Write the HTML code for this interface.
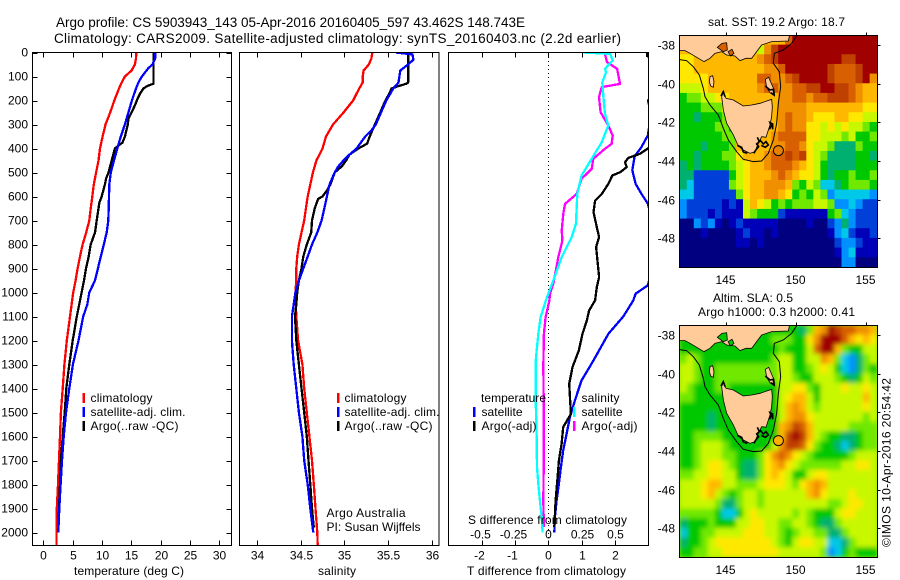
<!DOCTYPE html>
<html lang="en">
<head>
<meta charset="utf-8">
<title>Argo profile</title>
<style>
html,body{margin:0;padding:0;background:#fff;width:900px;height:580px;overflow:hidden}
svg{display:block}
text{font-family:"Liberation Sans",sans-serif;font-size:12px;fill:#000}
.ttl{font-size:13.5px}
.frame{fill:none;stroke:#000;stroke-width:1;shape-rendering:crispEdges}
.tick{stroke:#000;stroke-width:1;shape-rendering:crispEdges}
.prof{fill:none;stroke-width:2.3;stroke-linejoin:round;shape-rendering:crispEdges}
.land{fill:#ffcc99;stroke:#000;stroke-width:2.4}
.bay{fill:currentColor;stroke:#000;stroke-width:2.4}
.jag{fill:none;stroke:#000;stroke-width:5}
.iso{fill:none;stroke:#000;stroke-width:3}
</style>
</head>
<body>
<svg id="chart" xmlns="http://www.w3.org/2000/svg" width="900" height="580" viewBox="0 0 900 580">
<defs>
<clipPath id="clip-temp"><rect x="32.5" y="52.5" width="199" height="493"/></clipPath>
<clipPath id="clip-sal"><rect x="239.5" y="52.5" width="199.5" height="493"/></clipPath>
<clipPath id="clip-diff"><rect x="448.5" y="52.5" width="200" height="493"/></clipPath>
<clipPath id="clip-map1"><rect x="679.5" y="35.5" width="198" height="232"/></clipPath>
<clipPath id="clip-map2"><rect x="679.5" y="325.5" width="198" height="232"/></clipPath>
<filter id="smooth" x="-5%" y="-5%" width="110%" height="110%"><feGaussianBlur stdDeviation="2.4"/></filter>
<g id="land-shapes">
<polygon class="land" points="40,80 40,152 75,152 90,160 110,172 132,185 150,175 165,160 185,155 200,165 225,168 240,182 258,175 275,175 290,155 305,135 335,125 385,123 392,90"/>
<polygon class="bay" points="172,142 186,130 200,128 202,150 190,155"/>
<polygon class="bay" points="204,155 216,148 222,160 212,168"/>
<polygon class="land" points="150,230 158,227 162,245 160,262 152,258 148,245"/>
<polygon class="land" points="316,238 326,232 336,255 342,268 344,285 330,278 320,262"/>
<polyline class="jag" points="316,258 330,270 340,268 342,285 332,278"/>
<polygon class="land" points="185,290 190,275 198,295 220,300 250,318 275,315 300,310 335,298 337,320 335,350 330,375 318,412 305,410 295,430 285,455 270,460 250,450 235,438 220,405 200,370 190,330"/>
<polyline class="jag" points="292,412 298,425 290,432 296,440 286,452 282,460"/>
<polyline class="jag" points="300,420 310,432 318,425 325,435 316,442 304,436"/>
<polyline class="jag" points="328,388 334,378 330,368 338,372 338,388"/>
<polyline class="jag" points="232,436 245,442 250,456 262,460"/>
<polyline class="jag" points="183,288 190,275 195,290"/>
<polyline class="iso" points="40,176 80,182 100,200 118,225 130,265 135,290 150,315 175,345 190,385 205,420 230,455 250,478 280,485 305,483 325,460 340,420 350,370 355,310 362,260 358,215 340,190 343,160 370,150 395,130 415,100"/>
</g>
</defs>

<text class="ttl" x="56" y="27" textLength="469" lengthAdjust="spacing">Argo profile: CS 5903943_143 05-Apr-2016 20160405_597 43.462S 148.743E</text>
<text class="ttl" x="54" y="43" textLength="567" lengthAdjust="spacing">Climatology: CARS2009. Satellite-adjusted climatology: synTS_20160403.nc (2.2d earlier)</text>

<g id="temp-lines" clip-path="url(#clip-temp)"></g>
<g id="sal-lines" clip-path="url(#clip-sal)"></g>
<line class="tick" x1="548.5" y1="53" x2="548.5" y2="545" style="stroke-dasharray:1 3"/>
<g id="diff-lines" clip-path="url(#clip-diff)"></g>

<rect class="frame" x="32.5" y="52.5" width="199" height="493"/>
<rect class="frame" x="239.5" y="52.5" width="199.5" height="493"/>
<rect class="frame" x="448.5" y="52.5" width="200" height="493"/>
<g id="axes"></g>

<text x="74" y="575" textLength="110">temperature (deg C)</text>
<text x="318" y="575" textLength="38">salinity</text>
<text x="467" y="575" textLength="159">T difference from climatology</text>
<text x="468" y="524" textLength="159">S difference from climatology</text>

<g>
<rect x="82.5" y="393" width="2.5" height="10" fill="#ff0000"/>
<rect x="82.5" y="407" width="2.5" height="10" fill="#0000ff"/>
<rect x="82.5" y="421" width="2.5" height="10" fill="#000"/>
<text x="90.5" y="402" textLength="62">climatology</text>
<text x="90.5" y="416" textLength="95">satellite-adj. clim.</text>
<text x="90.5" y="430" textLength="88">Argo(..raw -QC)</text>
</g>
<g>
<rect x="337" y="393" width="2.5" height="10" fill="#ff0000"/>
<rect x="337" y="407" width="2.5" height="10" fill="#0000ff"/>
<rect x="337" y="421" width="2.5" height="10" fill="#000"/>
<text x="344.5" y="402" textLength="62">climatology</text>
<text x="344.5" y="416" textLength="95">satellite-adj. clim.</text>
<text x="344.5" y="430" textLength="88">Argo(..raw -QC)</text>
<text x="326.5" y="517" textLength="79">Argo Australia</text>
<text x="326.5" y="531" textLength="94">PI: Susan Wijffels</text>
</g>
<g>
<text x="481" y="402" textLength="65">temperature</text>
<text x="481.5" y="416" textLength="41">satellite</text>
<text x="481.5" y="430" textLength="55">Argo(-adj)</text>
<rect x="473" y="407" width="2.5" height="10" fill="#0000ff"/>
<rect x="473" y="421" width="2.5" height="10" fill="#000"/>
<text x="581.5" y="402" textLength="38">salinity</text>
<text x="581.5" y="416" textLength="41">satellite</text>
<text x="581.5" y="430" textLength="56">Argo(-adj)</text>
<rect x="573" y="407" width="2.5" height="10" fill="#00ffff"/>
<rect x="573" y="421" width="2.5" height="10" fill="#ff00ff"/>
</g>

<text x="708" y="26" textLength="137">sat. SST: 19.2 Argo: 18.7</text>
<g clip-path="url(#clip-map1)">
<g id="sst-cells"></g>
<use href="#land-shapes" transform="translate(660,0) scale(0.3333)" style="color:#d86000"/>
</g>
<circle id="sst-marker" r="5" fill="#e88000" stroke="#000" stroke-width="1"/>
<rect class="frame" x="679.5" y="35.5" width="198" height="232"/>

<text x="713" y="302" textLength="80">Altim. SLA: 0.5</text>
<text x="698" y="316" textLength="157">Argo h1000: 0.3 h2000: 0.41</text>
<g clip-path="url(#clip-map2)">
<rect x="679.5" y="325.5" width="198" height="232" fill="#90e800"/>
<g id="sla-cells" filter="url(#smooth)"></g>
<use href="#land-shapes" transform="translate(660,290) scale(0.3333)" style="color:#00c800"/>
</g>
<circle id="sla-marker" r="5" fill="#ffb000" stroke="#000" stroke-width="1"/>
<rect class="frame" x="679.5" y="325.5" width="198" height="232"/>
<g id="map-axes"></g>

<text transform="translate(890.5,547) rotate(-90)" textLength="169">©IMOS 10-Apr-2016 20:54:42</text>

<script>
// ---- Axis tick labels ----
var depthTicks = [0,100,200,300,400,500,600,700,800,900,1000,1100,1200,1300,1400,1500,1600,1700,1800,1900,2000];
var tempTicks = [0,5,10,15,20,25,30];
var salTicks = [34,34.5,35,35.5,36];
var salTickLabels = ['34','34.5','35','35.5','36'];
var tDiffTicks = [-2,-1,0,1,2];
var sDiffTicks = [-0.5,-0.25,0,0.25,0.5];
var sDiffLabels = ['-0.5','-0.25','0','0.25','0.5'];
var lonTicks = [145,150,155];
var latTicks = [-38,-40,-42,-44,-46,-48];

// ---- Temperature panel ----
var tempClimDepth = [0,25,50,75,100,125,150,200,250,300,350,400,450,500,550,600,650,700,750,800,850,900,950,1000,1100,1200,1300,1400,1500,1600,1700,1800,1900,2000,2055];
var tempClimValue = [15.85,15.8,15.6,15.05,13.9,13.35,12.9,12.1,11.4,10.6,10.1,9.66,9.4,9.0,8.6,8.35,8.07,7.84,7.3,6.7,6.25,5.85,5.5,5.1,4.55,4.0,3.6,3.3,3.0,2.85,2.67,2.5,2.3,2.27,2.27];
var tempSatDepth = [0,25,50,65,100,125,150,200,250,300,350,400,450,500,550,600,650,700,750,800,850,900,950,1000,1050,1100,1200,1300,1400,1500,1600,1700,1800,1900,2000];
var tempSatValue = [19.1,19.05,18.6,17.9,16.8,16.2,15.8,15.1,14.5,13.9,13.2,12.6,12.05,11.5,11.25,11.2,11.14,11.08,10.8,10.3,9.8,9.3,8.8,7.84,7.5,6.8,6.0,5.05,4.43,3.86,3.47,3.18,2.95,2.73,2.56];
var tempArgoDepth = [0,130,135,140,150,170,190,220,250,275,300,350,375,400,450,500,525,550,600,625,700,750,800,850,900,950,1000,1100,1200,1300,1400,1500,1600,1700,1800,1900,2000];
var tempArgoValue = [18.75,18.75,18.2,17.7,17.05,16.5,16.1,15.6,15.05,14.5,14.4,13.9,13.5,12.2,11.65,11.1,10.7,10.5,9.95,9.55,9.1,8.8,8.07,7.73,7.27,6.93,6.53,5.7,5.0,4.43,3.92,3.64,3.3,3.0,2.85,2.67,2.56];

// ---- Salinity panel ----
var salClimDepth = [0,25,50,75,100,125,150,200,250,300,350,400,450,500,550,600,650,700,750,800,850,900,950,1000,1100,1200,1300,1400,1500,1600,1700,1800,1900,2000,2055];
var salClimValue = [35.32,35.31,35.28,35.22,35.21,35.21,35.17,35.10,34.99,34.87,34.79,34.75,34.68,34.64,34.61,34.58,34.56,34.54,34.51,34.48,34.46,34.45,34.45,34.44,34.45,34.47,34.52,34.54,34.57,34.60,34.63,34.65,34.67,34.69,34.695];
var salSatDepth = [0,8,30,50,75,100,125,150,175,200,250,300,325,350,375,400,425,450,475,500,550,600,650,700,750,800,850,900,950,1000,1050,1100,1200,1300,1400,1500,1600,1700,1800,1900,2000];
var salSatValue = [35.59,35.78,35.79,35.73,35.64,35.63,35.62,35.56,35.52,35.48,35.42,35.36,35.31,35.24,35.19,35.14,35.06,34.99,34.93,34.89,34.83,34.80,34.77,34.74,34.69,34.63,34.58,34.53,34.48,34.44,34.42,34.40,34.40,34.42,34.45,34.48,34.52,34.54,34.58,34.61,34.645];
var salArgoDepth = [0,125,130,140,150,175,200,250,300,350,380,400,425,450,475,500,550,575,600,610,650,700,750,800,850,900,950,1000,1050,1100,1200,1300,1400,1500,1600,1700,1800,1900,1980];
var salArgoValue = [35.73,35.73,35.71,35.62,35.54,35.51,35.47,35.41,35.35,35.29,35.26,35.16,35.06,35.02,34.97,34.89,34.84,34.80,34.75,34.70,34.66,34.63,34.62,34.57,34.53,34.51,34.48,34.46,34.45,34.435,34.45,34.48,34.51,34.54,34.57,34.59,34.61,34.63,34.65];

// ---- Difference panel ----
var tDiffSatDepth = [0,190,200,250,345,395,433,490,547,590,630,800,970,1005,1033,1100,1172,1283,1367,1450,1519,1589,1658,1728,1797,1867,1936,2000];
var tDiffSatValue = [3.25,3.1,3.0,3.1,3.0,2.8,2.6,2.53,2.63,2.81,3.0,3.3,3.0,2.63,2.56,2.26,1.81,1.36,1.0,0.8,0.65,0.55,0.45,0.38,0.32,0.25,0.2,0.18];
var tDiffArgoDepth = [0,15,25,130,300,400,422,439,457,478,499,512,547,589,617,665,728,769,811,881,936,978,1033,1075,1117,1172,1242,1311,1381,1506,1561,1631,1700,1769,1867,1978];
var tDiffArgoValue = [2.97,2.97,3.3,4.5,3.8,3.0,2.76,2.41,2.31,2.36,2.16,1.93,1.81,1.61,1.41,1.36,1.46,1.53,1.44,1.49,1.53,1.46,1.41,1.23,1.16,1.03,0.92,0.73,0.63,0.68,0.45,0.4,0.32,0.28,0.22,0.18];
var sDiffSatDepth = [0,6,33,68,82,124,186,256,304,374,443,512,589,714,769,853,950,1006,1033,1103,1172,1283,1450,1589,1728,1797,1867,1936,2000];
var sDiffSatValue = [0.264,0.465,0.485,0.427,0.435,0.407,0.415,0.427,0.452,0.402,0.327,0.251,0.218,0.208,0.176,0.101,0.038,0.0,-0.018,-0.058,-0.075,-0.095,-0.095,-0.088,-0.085,-0.075,-0.063,-0.05,-0.043];
var sDiffArgoDepth = [8,40,68,131,144,186,249,304,346,381,401,443,485,526,589,631,672,742,783,853,964,1006,1033,1103,1172,1311,1450,1589,1728,1867,1978];
var sDiffArgoValue = [0.427,0.442,0.518,0.54,0.402,0.382,0.394,0.452,0.485,0.477,0.427,0.339,0.327,0.251,0.214,0.126,0.113,0.101,0.106,0.075,0.038,0.013,0.008,-0.02,-0.033,-0.038,-0.035,-0.033,-0.035,-0.038,-0.033];

// ---- Maps: half-degree cells, one character per cell ----
var profileLon = 148.743;
var profileLat = -43.462;
var mapLevels = '0123456789abcde';
var mapColors = ['#000080','#0000b8','#0040d8','#0090ff','#00c8e8','#00b070','#00c800','#70e800','#c8f800','#ffe800','#ffb800','#f09000','#d86000','#c04000','#a00000'];
var sstRows = [
"aaaaaaaaaaaaaaaceeeeeeeeeeee",
"aaaaaaaaaaa8bdeeeeeeeeeeeeee",
"99aaaaaaaaabcdeeeeeeeeeddeee",
"99aaaaaaaaaabbceeeeeedcccdee",
"9999aaaaaaaccbbcdeeeedcccdeb",
"8889aaaaaaabccbbccddeeddcbaa",
"6778899aaaaaaabbccbccdddcbaa",
"66677788aaaaaabbbbaaaaaaaa99",
"66566677aaaaaabcbba999aa9988",
"66666776aaaaaabcbb9989898876",
"66666677aaaaabcccc9988878667",
"66656667aaaaabbccb9887555766",
"665666779aaabccdcd9875555665",
"5656666789aabcccba9865555666",
"5522222689aaabcba99865667667",
"5422222789aabbba768744567776",
"4422222279aabba9676873444443",
"3222221218a98676777887334322",
"3222121118766621111116743222",
"0032310121111100001002353222",
"0001000012110100000001342112",
"0000000011010000000000233211",
"0000000000000000000000134111",
"0000000000000000000000033000"
];
var slaRows = [
"66666666666666666657abedccbba".slice(1),
"6666666666666777669beeeca9a9",
"6666666666666676668ceea76688",
"78766666666667886688ba743578",
"8876677777777788667898643576",
"8876677777777788766888765687",
"8766677666666688997688898898",
"7766666666666689aa86888888a8",
"666666666666668aba8788888898",
"666656666666668abb9888888878",
"66665666666666abdca888887777",
"66777766666666adeda876655677",
"66788876666668bddc9766545677",
"6678887766679bcb987666667888",
"6678998765579ab9877777788998",
"7788998865579a98668998888888",
"8889aa887778999879aba8888888",
"8889a8767887888888ab98889888",
"8888875578878888888887789988",
"7777764468988888787666899888",
"5666766688998877887655788888",
"4667788889998876788775578888",
"5667899999999876899884457888",
"6677889999999988888873467666"
];

// ---- Axis functions ----
function yDepth(d){ return 52.5 + d * 0.24; }
function xTemp(t){ return 43.3 + t * 5.87; }
function xSal(s){ return 257 + (s - 34) * 87.35; }
function xTDiff(t){ return 548.3 + t * 33.2; }
function xSDiff(s){ return 548.3 + s * 132.8; }
function xLon(lon){ return 725.7 + (lon - 145) * 14.07; }
function yLat(lat, top){ return top + 45 + (-38 - lat) * 19.33; }

var NS = 'http://www.w3.org/2000/svg';
function mk(tag, parent){ var e = document.createElementNS(NS, tag); parent.appendChild(e); return e; }

function drawLine(group, depths, values, xf, color, name, width){
  var pts = [];
  for (var i = 0; i < depths.length; i++) pts.push(xf(values[i]).toFixed(1) + ',' + yDepth(depths[i]).toFixed(1));
  var p = mk('polyline', group);
  p.setAttribute('class', 'prof');
  p.setAttribute('points', pts.join(' '));
  p.setAttribute('stroke', color);
  if (width) p.setAttribute('stroke-width', width);
  
  
}

function tick(x1, y1, x2, y2){
  var l = mk('line', document.getElementById('axes'));
  l.setAttribute('class', 'tick');
  l.setAttribute('x1', x1); l.setAttribute('y1', y1);
  l.setAttribute('x2', x2); l.setAttribute('y2', y2);
  
  
}

function label(parent, str, x, y, anchor){
  var t = mk('text', parent);
  t.setAttribute('x', x); t.setAttribute('y', y);
  t.setAttribute('text-anchor', anchor);
  t.textContent = str;
  
  
}

function drawCells(group, rows, top){
  for (var r = 0; r < rows.length; r++) {
    for (var c = 0; c < 28; c++) {
      var lev = mapLevels.indexOf(rows[r].charAt(c));
      if (lev < 0) lev = 8;
      var lon = 141.73 + c * 0.5, lat = -37.48 - r * 0.5;
      var x0 = xLon(lon), y0 = yLat(lat, top);
      var cell = mk('rect', group);
      cell.setAttribute('x', x0.toFixed(2));
      cell.setAttribute('y', y0.toFixed(2));
      cell.setAttribute('width', (xLon(lon + 0.5) - x0 + 0.4).toFixed(2));
      cell.setAttribute('height', (yLat(lat - 0.5, top) - y0 + 0.4).toFixed(2));
      cell.setAttribute('fill', mapColors[lev]);
      
      
    }
  }
}

// ---- Draw profiles ----
var gT = document.getElementById('temp-lines');
drawLine(gT, tempClimDepth, tempClimValue, xTemp, '#ff0000', 'temperature-climatology-line');
drawLine(gT, tempArgoDepth, tempArgoValue, xTemp, '#000000', 'temperature-argo-line');
drawLine(gT, tempSatDepth, tempSatValue, xTemp, '#0000ff', 'temperature-satellite-line');

var gS = document.getElementById('sal-lines');
drawLine(gS, salClimDepth, salClimValue, xSal, '#ff0000', 'salinity-climatology-line');
drawLine(gS, salArgoDepth, salArgoValue, xSal, '#000000', 'salinity-argo-line');
drawLine(gS, salSatDepth, salSatValue, xSal, '#0000ff', 'salinity-satellite-line', 2);

var gD = document.getElementById('diff-lines');
drawLine(gD, tDiffSatDepth, tDiffSatValue, xTDiff, '#0000ff', 'temperature-difference-satellite-line');
drawLine(gD, tDiffArgoDepth, tDiffArgoValue, xTDiff, '#000000', 'temperature-difference-argo-line');
drawLine(gD, sDiffArgoDepth, sDiffArgoValue, xSDiff, '#ff00ff', 'salinity-difference-argo-line');
drawLine(gD, sDiffSatDepth, sDiffSatValue, xSDiff, '#00ffff', 'salinity-difference-satellite-line', 2);

// ---- Draw axes ----
var axes = document.getElementById('axes');
depthTicks.forEach(function(d){
  var y = Math.round(yDepth(d)) + 0.5;
  tick(32.5, y, 37.5, y);
  tick(226.5, y, 231.5, y);
  label(axes, String(d), 28, y + 3, 'end');
});
tempTicks.forEach(function(t){
  var x = Math.round(xTemp(t)) + 0.5;
  tick(x, 52.5, x, 57.5);
  tick(x, 540.5, x, 545.5);
  label(axes, String(t), x, 559.5, 'middle');
});
salTicks.forEach(function(s, i){
  var x = Math.round(xSal(s)) + 0.5;
  tick(x, 52.5, x, 57.5);
  tick(x, 540.5, x, 545.5);
  label(axes, salTickLabels[i], x, 559.5, 'middle');
});
tDiffTicks.forEach(function(t){
  var x = Math.round(xTDiff(t)) + 0.5;
  tick(x, 540.5, x, 545.5);
  label(axes, String(t), t < 0 ? x - 3 : x, 559.5, 'middle');
});
sDiffTicks.forEach(function(s, i){
  var x = Math.round(xSDiff(s)) + 0.5;
  tick(x, 52.5, x, 57.5);
  tick(x, 540.5, x, 545.5);
  label(axes, sDiffLabels[i], x - (s < 0 ? 2 : 0), 538.5, 'middle');
});

// ---- Draw maps ----
drawCells(document.getElementById('sst-cells'), sstRows, 0);
drawCells(document.getElementById('sla-cells'), slaRows, 290);

var sstM = document.getElementById('sst-marker');
sstM.setAttribute('cx', xLon(profileLon).toFixed(1));
sstM.setAttribute('cy', yLat(profileLat, 0).toFixed(1));
var slaM = document.getElementById('sla-marker');
slaM.setAttribute('cx', xLon(profileLon).toFixed(1));
slaM.setAttribute('cy', yLat(profileLat, 290).toFixed(1));

var mapAxes = document.getElementById('map-axes');
[0, 290].forEach(function(top){
  lonTicks.forEach(function(lon){
    var x = Math.round(xLon(lon)) + 0.5;
    var l = mk('line', mapAxes);
    l.setAttribute('class', 'tick');
    l.setAttribute('x1', x); l.setAttribute('x2', x);
    l.setAttribute('y1', top + 32.5); l.setAttribute('y2', top + 35.5);
    
    
    label(mapAxes, String(lon), x - 1, top + 284, 'middle');
  });
  latTicks.forEach(function(lat){
    var y = Math.round(yLat(lat, top)) + 0.5;
    var l = mk('line', mapAxes);
    l.setAttribute('class', 'tick');
    l.setAttribute('x1', 877.5); l.setAttribute('x2', 880.5);
    l.setAttribute('y1', y); l.setAttribute('y2', y);
    
    
    label(mapAxes, String(lat), 675, y + 4, 'end');
  });
});
</script>
</svg>
</body>
</html>
